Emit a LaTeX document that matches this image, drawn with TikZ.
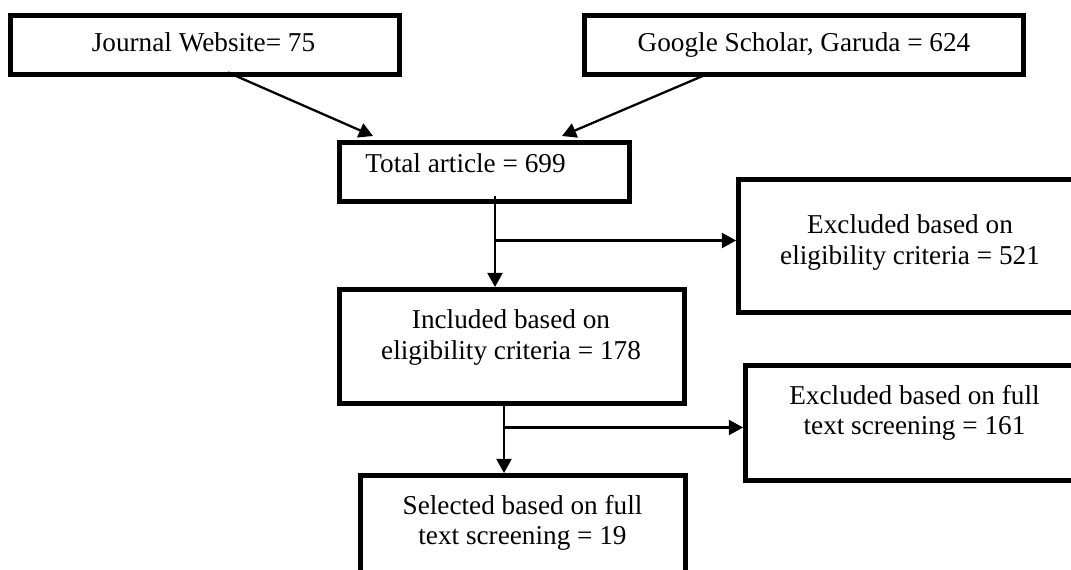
\documentclass[tikz,border=0pt]{standalone}
\usepackage{fontspec}
\setmainfont{Liberation Serif}
\usepackage{tikz}
\usetikzlibrary{arrows.meta,calc}
\tikzset{
  stage/.style={rectangle, draw=black, line width=0.1cm, inner sep=0pt},
  stagetxt/.style={anchor=north, inner sep=0pt, align=center, font=\fontsize{15.5}{17.6}\selectfont},
  flow/.style={-{Triangle[length=8pt,width=8.5pt]}, line width=1.3pt, draw=black}
}

\begin{document}
\begin{tikzpicture}[x=0.02cm,y=-0.02cm]
  \useasboundingbox (0,0) rectangle (1071,569);
  \clip (0,0) rectangle (1071,569);
  % boxes
  \node[stage, minimum width=7.78cm, minimum height=1.18cm] (journal) at (205,45) {};
  \node[stage, minimum width=8.78cm, minimum height=1.18cm] (google) at (804,45) {};
  \node[stage, minimum width=5.8cm, minimum height=1.18cm] (total) at (484.5,172) {};
  \node[stage, minimum width=6.9cm, minimum height=2.28cm] (incl) at (512,346.5) {};
  \node[stage, minimum width=6.86cm, minimum height=2.66cm] (excl1) at (910,246) {};
  \node[stage, minimum width=6.76cm, minimum height=2.3cm] (excl2) at (914.5,423) {};
  \node[stage, minimum width=6.5cm, minimum height=2.28cm] (sel) at (523,532.5) {};
  % texts
  \node[stagetxt] (journal-txt) at (203.5,32.5) {Journal Website= 75};
  \node[stagetxt] (google-txt) at (804,32.5) {Google Scholar, Garuda = 624};
  \node[stagetxt] (total-txt) at (465.5,153.5) {Total article = 699};
  \node[stagetxt] (incl-txt) at (511,309.5) {Included based on\\eligibility criteria = 178};
  \node[stagetxt] (excl1-txt) at (910,214.5) {Excluded based on\\eligibility criteria = 521};
  \node[stagetxt] (excl2-txt) at (914.5,384.5) {Excluded based on full\\text screening = 161};
  \node[stagetxt] (sel-txt) at (522.5,494.5) {Selected based on full\\text screening = 19};
  % arrows
  \draw[flow] ($(journal.south)+(23,-4.5)$) -- ($(total.north)+(-111.5,-4)$);
  \draw[flow] ($(google.south)+(-99,-2)$) -- ($(total.north)+(77.5,-4)$);
  \coordinate (down1) at ($(total.south)+(10.5,-8.5)$);
  \coordinate (split1) at ($(total.south)+(10.5,36.5)$);
  \draw[flow] (down1) -- (down1 |- incl.north);
  \draw[flow] (split1) -- (split1 -| excl1.west);
  \coordinate (down2) at ($(incl.south)+(-8,-4.5)$);
  \coordinate (split2) at ($(incl.south)+(-8,21.5)$);
  \draw[flow] (down2) -- (down2 |- sel.north);
  \draw[flow] (split2) -- (split2 -| excl2.west);
\end{tikzpicture}
\end{document}
